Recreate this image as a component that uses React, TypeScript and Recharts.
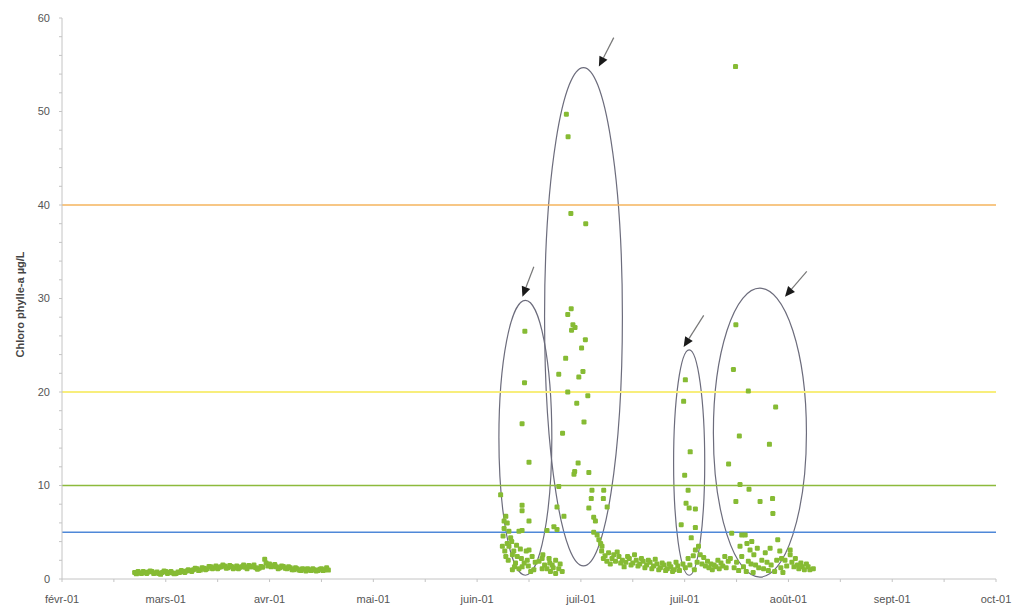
import {
  ReferenceArea,
  ReferenceLine,
  Scatter,
  ScatterChart,
  XAxis,
  YAxis,
} from 'recharts';

// x = days since 1 Feb 2001, y = chlorophyll-a (µg/L)
const X_LABELS = ['févr-01', 'mars-01', 'avr-01', 'mai-01', 'juin-01', 'juil-01', 'juil-01', 'août-01', 'sept-01', 'oct-01'];
const X_TICKS = [0, 15, 30, 45, 60, 75, 90, 105, 120, 135, 150, 165, 180, 195, 210, 225, 240, 255, 270];
const Y_TICKS = [0, 2, 4, 6, 8, 10, 12, 14, 16, 18, 20, 22, 24, 26, 28, 30, 32, 34, 36, 38, 40, 42, 44, 46, 48, 50, 52, 54, 56, 58, 60];

const THRESHOLDS = [40, 20, 10, 5];

const LATE_WINTER: [number, number][] = [
  [21, 0.7], [21.5, 0.55], [22, 0.8], [22.5, 0.65], [23, 0.6], [23.5, 0.8], [24, 0.7], [24.5, 0.6],
  [25, 0.75], [25.5, 0.85], [26, 0.8], [26.5, 0.6], [27, 0.65], [27.5, 0.75], [28, 0.6], [28.5, 0.5],
  [29, 0.7], [29.5, 0.85], [30, 0.8], [30.5, 0.6], [31, 0.7], [31.5, 0.8], [32, 0.65], [32.5, 0.55],
  [33, 0.6], [33.5, 0.75], [34, 0.7], [34.5, 0.9], [35, 0.8], [35.5, 0.7], [36, 0.85], [36.5, 1.0],
  [37, 0.9], [37.5, 0.8], [38, 1.0], [38.5, 1.15], [39, 1.1], [39.5, 0.9], [40, 0.95], [40.5, 1.2],
  [41, 1.15], [41.5, 1.0], [42, 1.1], [42.5, 1.35], [43, 1.3], [43.5, 1.1], [44, 1.2], [44.5, 1.4],
  [45, 1.1], [45.5, 1.25], [46, 1.3], [46.5, 1.5], [47, 1.4], [47.5, 1.15], [48, 1.2], [48.5, 1.45],
  [49, 1.35], [49.5, 1.1], [50, 1.2], [50.5, 1.4], [51, 1.1], [51.5, 1.25], [52, 1.3], [52.5, 1.5],
  [53, 1.25], [53.5, 1.1], [54, 1.45], [54.5, 1.3], [55, 1.3], [55.5, 1.5], [56, 1.2], [56.5, 1.05],
  [57, 1.15], [57.5, 1.35], [58, 1.25], [58.6, 2.1], [59, 1.7], [59.5, 1.4], [60, 1.6], [60.5, 1.3],
  [61, 1.4], [61.5, 1.55], [62, 1.3], [62.5, 1.1], [63, 1.2], [63.5, 1.4], [64, 1.35], [64.5, 1.15],
  [65, 1.1], [65.5, 1.3], [66, 1.2], [66.5, 1.0], [67, 1.0], [67.5, 1.2], [68, 1.1], [68.5, 0.95],
  [69, 0.9], [69.5, 1.1], [70, 1.05], [70.5, 0.85], [71, 1.1], [71.5, 0.95], [72, 0.9], [72.5, 1.1],
  [73, 1.0], [73.5, 0.85], [74, 0.9], [74.5, 1.05], [75, 1.1], [75.5, 0.9], [76, 1.0], [76.5, 1.2],
  [77, 0.95],
];

const JUNE_BLOOM: [number, number][] = [
  [126.8, 9.0], [127.3, 3.5], [127.8, 5.4], [127.8, 6.2], [128.3, 6.7], [128.3, 2.4], [128.7, 6.0],
  [128.7, 3.8], [129.2, 5.1], [129.2, 3.5], [129.7, 4.4], [130.2, 2.6], [130.2, 1.0], [130.6, 3.0],
  [131.1, 1.7], [131.6, 2.4], [132.1, 1.1], [132.1, 5.1], [132.5, 3.2], [133, 7.9], [133, 7.3],
  [133, 5.2], [133, 1.3], [133.7, 21.0], [133.8, 26.5], [133.0, 16.6], [134.5, 2.0], [135, 12.5],
  [135, 6.2], [135, 3.1], [135.5, 0.8], [135.9, 2.4], [136.4, 1.0], [136.8, 1.8],
  [137.9, 1.9], [138.8, 2.2], [138.8, 1.1], [139.5, 1.5], [140.2, 1.1], [140.2, 5.2], [140.8, 2.2],
  [141.2, 0.8], [141.7, 1.5], [142.2, 5.6], [142.7, 2.0], [142.7, 0.6], [143.1, 7.7], [143.1, 5.3],
  [143.6, 9.9], [143.6, 1.1], [144.6, 0.8], [145.1, 6.7],
  [127.5, 4.6], [128.0, 3.0], [129.0, 2.0], [130.0, 4.0], [130.8, 1.3], [131.4, 3.6], [132.8, 2.2],
  [133.6, 1.7], [134.2, 3.0], [134.8, 1.4], [139.0, 2.6], [141.0, 1.7], [142.0, 1.2], [144.0, 1.6],
];

const JULY_PEAK: [number, number][] = [
  [145.8, 49.7], [146.3, 47.3], [147.1, 39.1], [151.4, 38.0], [147.2, 28.9], [146.2, 28.3],
  [147.7, 27.2], [148.3, 26.9], [147.3, 26.6], [151.3, 25.6], [150.2, 24.7], [145.6, 23.6],
  [143.6, 21.9], [150.6, 22.2], [149.4, 21.6], [146.2, 20.0], [152.0, 19.6], [148.8, 18.8],
  [150.9, 16.8], [144.7, 15.6], [149.2, 12.4], [148.2, 11.5], [148.0, 11.2], [152.3, 11.4],
  [153.2, 9.5], [153.0, 8.6], [156.6, 9.5], [156.5, 8.6], [152.3, 7.6], [157.6, 7.7], [153.7, 6.6],
  [154.2, 6.2], [153.7, 5.0], [154.7, 4.7], [155.2, 4.2], [155.7, 3.8], [156.1, 3.5],
];

const JULY_LOW: [number, number][] = [
  [156, 3.0], [156.5, 2.2], [157, 2.5], [157.5, 1.9], [158, 2.8], [158.5, 1.6], [159, 2.2], [159.5, 2.6],
  [160, 1.9], [160.5, 2.9], [161, 2.4], [161.5, 1.7], [162, 2.0], [162.5, 1.3], [163, 1.8], [163.5, 2.4],
  [164, 2.2], [164.5, 1.5], [165, 1.7], [165.5, 2.6], [166, 2.0], [166.5, 1.4], [167, 1.6], [167.5, 2.2],
  [168, 1.9], [168.5, 1.2], [169, 1.5], [169.5, 2.0], [170, 1.8], [170.5, 1.1], [171, 1.4], [171.5, 2.1],
  [172, 1.6], [172.5, 1.0], [173, 1.2], [173.5, 1.7], [174, 1.5], [174.5, 0.9], [175, 1.1], [175.5, 1.6],
  [176, 1.3], [176.5, 0.8], [177, 1.0], [177.5, 1.8], [178, 1.4], [178.5, 0.9],
];

const LATE_JULY_PEAK: [number, number][] = [
  [179.7, 19.0], [180.2, 21.3], [181.6, 13.6], [180, 11.1], [181, 9.5], [180.4, 8.1], [181.3, 7.6],
  [183.1, 7.5], [179, 5.8], [183.1, 5.5], [181.9, 4.4], [183.1, 3.1], [184.0, 3.5], [182.5, 2.5],
  [181.5, 1.5], [180.2, 1.2], [183.6, 1.8], [184.5, 2.6], [182.8, 1.0], [181.0, 2.2], [179.5, 1.6],
  [185, 1.6], [185.5, 2.3], [186, 1.4], [186.6, 1.9], [187, 1.2], [187.6, 1.6], [188, 1.0], [188.5, 1.5],
  [189, 1.3], [189.6, 2.0], [190, 1.1], [190.5, 1.7], [191, 1.4], [191.6, 2.4], [192, 1.2], [192.6, 1.9],
];

const AUGUST_PEAK: [number, number][] = [
  [192.7, 12.3], [193.6, 4.9], [193.2, 2.2], [194.1, 22.4], [194.8, 27.2], [194.8, 8.3], [194.7, 54.8],
  [195.8, 15.3], [196, 10.1], [196, 3.5], [196.5, 4.7], [196.5, 2.4], [197.5, 4.7], [198, 3.8],
  [198.4, 20.1], [198.4, 1.9], [198.6, 9.6], [198.9, 3.1], [199.4, 4.0], [200, 2.6], [200.5, 1.5],
  [201, 3.3], [201.8, 8.3], [202.3, 2.0], [202.8, 1.1], [203.3, 2.8], [204.5, 14.4], [204.7, 3.3],
  [205.4, 8.6], [205.5, 7.0], [206.3, 18.4], [206.9, 4.2], [207.5, 3.0], [208, 2.2], [209, 2.0],
  [209.5, 1.4], [210.5, 3.1], [210.5, 2.6], [211, 1.8], [211.6, 1.3], [212, 2.2], [212.6, 1.5],
  [213, 1.1], [213.6, 1.7], [214, 1.3], [214.6, 1.0], [215.2, 1.6], [215.7, 1.3], [216.2, 1.0],
  [217.2, 1.1], [194.3, 1.2], [195, 1.8], [195.6, 0.9], [197, 1.3], [197.8, 0.8], [199.2, 1.6],
  [199.8, 0.7], [201.4, 1.2], [203.8, 1.8], [204.2, 0.9], [205, 1.5], [206, 0.8], [206.6, 2.0],
  [207.8, 1.2], [208.4, 0.7],
];

// annotation ellipses [x1, x2, y1, y2] and arrows [fromX, fromY, toX, toY] in data units
const ELLIPSES: [number, number, number, number][] = [
  [126.3, 141.6, 0.4, 29.8],
  [139.5, 162.0, 1.4, 54.7],
  [176.8, 185.8, 0.4, 24.5],
  [188.3, 215.2, 0.2, 31.1],
];
const ARROWS: [number, number, number, number][] = [
  [136.4, 33.4, 133.1, 30.2],
  [159.5, 57.9, 155.2, 54.8],
  [185.5, 28.2, 179.7, 24.8],
  [215.3, 32.9, 209.0, 30.2],
];

const LINE_COLORS = ['#f4b45e', '#f8ee7c', '#8dba3c', '#4f88d8'];
const DOT = '#86bb34';
const AXIS = '#c4c4c4';

const toPoints = (rows: [number, number][]) => rows.map(([x, y]) => ({ x, y }));

function Dot(p: any) {
  if (p.cx == null || p.cy == null) return null;
  return <rect x={p.cx - 2.5} y={p.cy - 2.5} width={5} height={5} rx={1.2} fill={DOT} />;
}

function EllipseShape(p: any) {
  return (
    <ellipse
      cx={p.x + p.width / 2}
      cy={p.y + p.height / 2}
      rx={Math.abs(p.width) / 2}
      ry={Math.abs(p.height) / 2}
      fill="none"
      stroke="#6c6c7c"
      strokeWidth={1.2}
    />
  );
}

function ArrowShape(p: any) {
  const { x1, y1, x2, y2 } = p;
  const dx = x2 - x1;
  const dy = y2 - y1;
  const len = Math.sqrt(dx * dx + dy * dy) || 1;
  const ux = dx / len;
  const uy = dy / len;
  const head = 10;
  const half = 4.5;
  const bx = x2 - ux * head;
  const by = y2 - uy * head;
  return (
    <g>
      <line x1={x1} y1={y1} x2={bx} y2={by} stroke="#777" strokeWidth={1.2} />
      <polygon
        points={`${x2},${y2} ${bx - uy * half},${by + ux * half} ${bx + uy * half},${by - ux * half}`}
        fill="#1a1a1a"
      />
    </g>
  );
}

function YTitle(props: any) {
  const vb = props.viewBox || {};
  const cx = (vb.x ?? 0) + 20;
  const cy = (vb.y ?? 18) + (vb.height ?? 561) / 2 + 6;
  return (
    <text
      x={cx}
      y={cy}
      transform={`rotate(-90 ${cx} ${cy})`}
      textAnchor="middle"
      dominantBaseline="central"
      fontSize={11}
      fontWeight="bold"
      fill="#444"
    >
      Chloro phylle-a µg/L
    </text>
  );
}

export default function App() {
  const series = [LATE_WINTER, JUNE_BLOOM, JULY_PEAK, JULY_LOW, LATE_JULY_PEAK, AUGUST_PEAK];

  return (
    <div style={{ position: 'absolute', left: 0, top: 0, background: '#fff' }}>
      <ScatterChart
        width={1030}
        height={608}
        margin={{ top: 18, right: 34, bottom: 0, left: 0 }}
        style={{ fontFamily: '"Liberation Sans", Arial, sans-serif' }}
      >
        <XAxis
          type="number"
          dataKey="x"
          domain={[0, 270]}
          ticks={X_TICKS}
          interval={0}
          height={29}
          tickSize={3}
          tickMargin={13}
          stroke={AXIS}
          tick={{ fontSize: 11, fill: '#555' }}
          tickFormatter={(v: number) => (v % 30 === 0 ? X_LABELS[v / 30] : '')}
        />
        <YAxis
          type="number"
          dataKey="y"
          domain={[0, 60]}
          ticks={Y_TICKS}
          interval={0}
          width={62}
          tickSize={3}
          tickMargin={9}
          stroke={AXIS}
          tick={{ fontSize: 11, fill: '#555' }}
          tickFormatter={(v: number) => (v % 10 === 0 ? String(v) : '')}
          label={<YTitle />}
        />
        {THRESHOLDS.map((v, i) => (
          <ReferenceLine key={v} y={v} stroke={LINE_COLORS[i]} strokeWidth={i === 1 ? 2 : 1.6} />
        ))}
        {series.map((rows, i) => (
          <Scatter
            key={i}
            data={toPoints(rows)}
            fill={DOT}
            shape={Dot}
            isAnimationActive={false}
          />
        ))}
        {ELLIPSES.map(([x1, x2, y1, y2], i) => (
          <ReferenceArea
            key={`e${i}`}
            x1={x1}
            x2={x2}
            y1={y1}
            y2={y2}
            ifOverflow="visible"
            isFront
            shape={EllipseShape}
          />
        ))}
        {ARROWS.map(([fx, fy, tx, ty], i) => (
          <ReferenceLine
            key={`a${i}`}
            segment={[{ x: fx, y: fy }, { x: tx, y: ty }]}
            ifOverflow="visible"
            isFront
            shape={ArrowShape}
          />
        ))}
      </ScatterChart>
    </div>
  );
}
